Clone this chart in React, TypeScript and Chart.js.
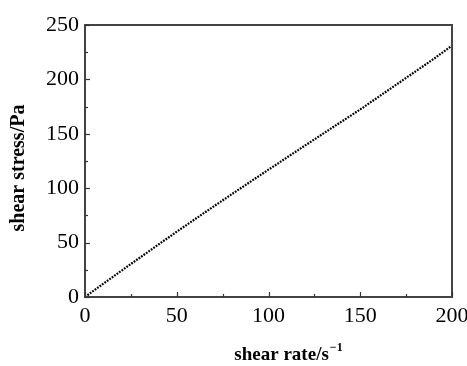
import React, { useEffect, useRef } from "react";
import { Chart, registerables } from "chart.js";

Chart.register(...registerables);

const shearRate = [0, 10, 20, 30, 40, 50, 60, 70, 80, 90, 100, 110, 120, 130, 140, 150, 160, 170, 180, 190, 200];
const shearStress = [0, 12.2, 24.3, 36.3, 48.2, 60, 71.6, 83.1, 94.5, 105.8, 117, 128.2, 139.3, 150.4, 161.4, 172.4, 184, 195.6, 207.2, 218.8, 231];
const xTicks = [0, 50, 100, 150, 200];
const yTicks = [0, 50, 100, 150, 200, 250];
const xTitle = "shear rate/s";
const xTitleSup = "\u22121";
const yTitle = "shear stress/Pa";

const framePlugin = {
  id: "frame",
  afterDraw(chart: any) {
    const { ctx, chartArea, scales } = chart;
    const { left, right, top, bottom } = chartArea;
    ctx.save();
    ctx.strokeStyle = "#444";
    ctx.lineWidth = 2;
    ctx.strokeRect(left, top, right - left, bottom - top);
    ctx.lineWidth = 1.2;
    ctx.strokeStyle = "#333";
    for (let v = 0; v <= 250; v += 25) {
      const y = Math.round(scales.y.getPixelForValue(v)) + 0.5;
      const len = v % 50 === 0 ? 5 : 3;
      ctx.beginPath();
      ctx.moveTo(left, y);
      ctx.lineTo(left + len, y);
      ctx.stroke();
    }
    for (let v = 0; v <= 200; v += 25) {
      const x = Math.round(scales.x.getPixelForValue(v)) + 0.5;
      const len = v % 50 === 0 ? 5 : 3;
      ctx.beginPath();
      ctx.moveTo(x, bottom);
      ctx.lineTo(x, bottom - len);
      ctx.stroke();
    }
    ctx.fillStyle = "#000";
    ctx.font = "bold 19px 'Liberation Serif', serif";
    ctx.textBaseline = "middle";
    const w = ctx.measureText(xTitle).width;
    ctx.font = "bold 12px 'Liberation Serif', serif";
    const ws = ctx.measureText(xTitleSup).width;
    const cx = 288;
    const startX = cx - (w + ws) / 2;
    ctx.font = "bold 19px 'Liberation Serif', serif";
    ctx.textAlign = "left";
    ctx.fillText(xTitle, startX, 355);
    ctx.font = "bold 12px 'Liberation Serif', serif";
    ctx.fillText(xTitleSup, startX + w + 1, 348);
    ctx.translate(19, 168);
    ctx.rotate(-Math.PI / 2);
    ctx.font = "bold 20px 'Liberation Serif', serif";
    ctx.textAlign = "center";
    ctx.fillText(yTitle, 0, 0);
    ctx.restore();
  },
};

export default function App() {
  const ref = useRef<HTMLCanvasElement>(null);
  useEffect(() => {
    const chart = new Chart(ref.current!, {
      type: "line",
      data: {
        datasets: [
          {
            data: shearRate.map((x, i) => ({ x, y: shearStress[i] })),
            borderColor: "#000",
            borderWidth: 2.2,
            borderDash: [1.8, 1.2],
            pointRadius: 0,
            tension: 0,
          },
        ],
      },
      options: {
        animation: false,
        responsive: false,
        events: [],
        layout: { padding: { left: 0, top: 25, right: 15, bottom: 0 } },
        plugins: { legend: { display: false }, tooltip: { enabled: false } },
        scales: {
          x: {
            type: "linear",
            min: 0,
            max: 200,
            afterBuildTicks: (s: any) => { s.ticks = xTicks.map((v) => ({ value: v })); },
            afterFit: (s: any) => { s.height = 69; s.paddingRight = 0; s.paddingLeft = 0; },
            grid: { display: false, drawTicks: false },
            border: { display: false },
            ticks: { color: "#000", padding: 6, maxRotation: 0, font: { family: "'Liberation Serif', serif", size: 22 } },
          },
          y: {
            type: "linear",
            min: 0,
            max: 250,
            afterBuildTicks: (s: any) => { s.ticks = yTicks.map((v) => ({ value: v })); },
            afterFit: (s: any) => { s.width = 85; s.paddingTop = 0; s.paddingBottom = 0; },
            grid: { display: false, drawTicks: false },
            border: { display: false },
            ticks: { color: "#000", padding: 6, font: { family: "'Liberation Serif', serif", size: 22 } },
          },
        },
      },
      plugins: [framePlugin],
    });
    return () => chart.destroy();
  }, []);
  return (
    <div style={{ position: "fixed", left: 0, top: 0, width: 467, height: 366, background: "#fff" }}>
      <canvas ref={ref} width={467} height={366} style={{ width: 467, height: 366 }} />
    </div>
  );
}
